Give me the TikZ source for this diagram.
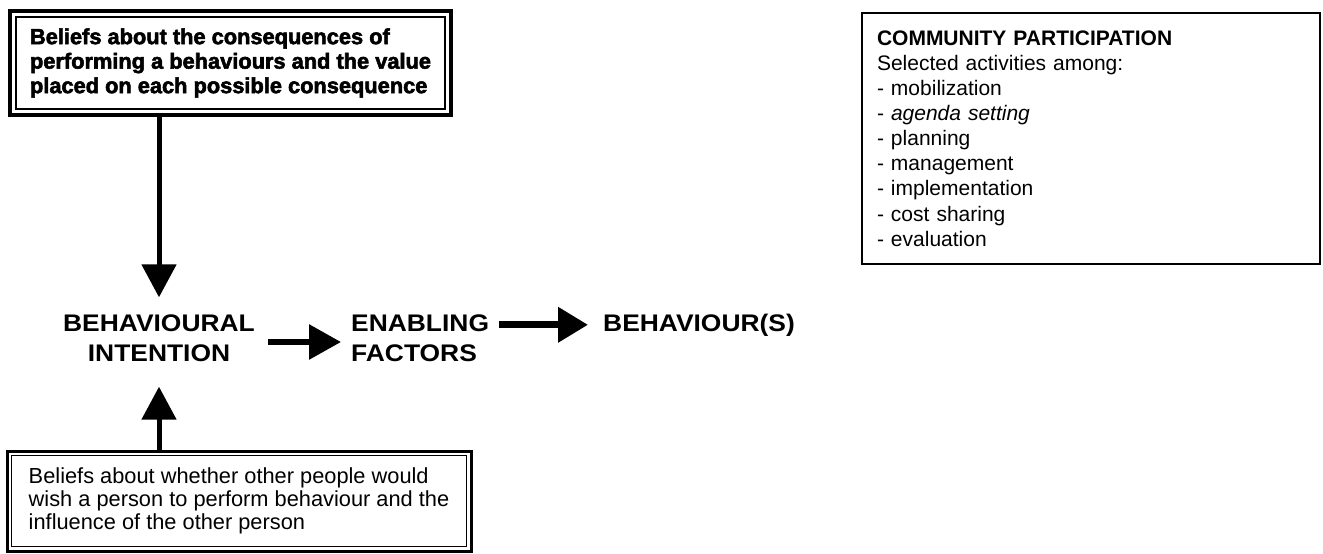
\documentclass[tikz,border=0pt]{standalone}
\usepackage{fontspec}
\setmainfont{Liberation Sans}
\newfontfamily\heavyfont{Liberation Sans Bold}[FakeBold=2.5]
\newfontfamily\midfont{Liberation Sans Bold}[FakeStretch=1.1]
\usetikzlibrary{arrows.meta}
\tikzset{
  topbox/.style={draw=black, line width=4pt, rectangle, align=left, inner sep=0pt,
    font={\heavyfont\fontsize{21.8}{24.5}\selectfont}},
  botbox/.style={draw=black, line width=3pt, rectangle, align=left, inner sep=0pt,
    font={\fontsize{21.8}{23}\selectfont}},
  rightbox/.style={draw=black, line width=2.5pt, rectangle, align=left, inner xsep=15pt, inner ysep=0pt,
    font={\fontsize{21}{25.1}\selectfont}},
  midlabel/.style={font={\midfont\fontsize{24}{30}\selectfont}, inner sep=0pt},
  arrV/.style={line width=5pt, -{Triangle[length=33pt,width=34pt]}},
  arrA/.style={line width=6pt, -{Triangle[length=32pt,width=34pt]}},
  arrB/.style={line width=7pt, -{Triangle[length=30pt,width=34pt]}},
  innerline/.style={line width=1.6pt}
}
\begin{document}
\begin{tikzpicture}[x=1pt,y=-1pt]
\useasboundingbox (0,0) rectangle (1323,554);

% top box
\node[topbox, minimum width=441pt, minimum height=104pt] (b1) at (230.5,63)
  {Beliefs about the consequences of\\performing a behaviours and the value\\placed on each possible consequence};
\draw[innerline] ([xshift=8pt,yshift=-8pt]b1.north west) rectangle ([xshift=-8pt,yshift=8pt]b1.south east);

% bottom box
\node[botbox, minimum width=464pt, minimum height=100pt] (b2) at (239,501)
  {Beliefs about whether other people would\\wish a person to perform behaviour and the\\influence of the other person};
\draw[innerline] ([xshift=6pt,yshift=-6pt]b2.north west) rectangle ([xshift=-6pt,yshift=6pt]b2.south east);

% right box
\node[rightbox, text width=428pt, minimum width=458pt, minimum height=251pt] (rb) at (1091,138.5)
  {\textbf{COMMUNITY PARTICIPATION}\\Selected activities among:\\- mobilization\\- \textit{agenda setting}\\- planning\\- management\\- implementation\\- cost sharing\\- evaluation};

% middle row
\node[midlabel, align=center, inner xsep=13pt, inner ysep=17pt] (bi) at (159,338) {BEHAVIOURAL\\INTENTION};
\node[midlabel, align=left, inner xsep=10pt, anchor=west] (ef) at (341,338) {ENABLING\\FACTORS};
\node[midlabel, inner xsep=15pt, anchor=base west] (bs) at (588,331) {BEHAVIOUR(S)};

% connectors
\draw[arrV] (b1.south -| bi.north) -- (bi.north);
\draw[arrV] (b2.north -| bi.south) -- ([yshift=-8pt]bi.south);
\draw[arrA] ([yshift=-4pt]bi.east) -- ([yshift=-4pt]ef.west);
\draw[arrB] (ef.east |- bs.center) -- (bs.west);
\end{tikzpicture}
\end{document}
